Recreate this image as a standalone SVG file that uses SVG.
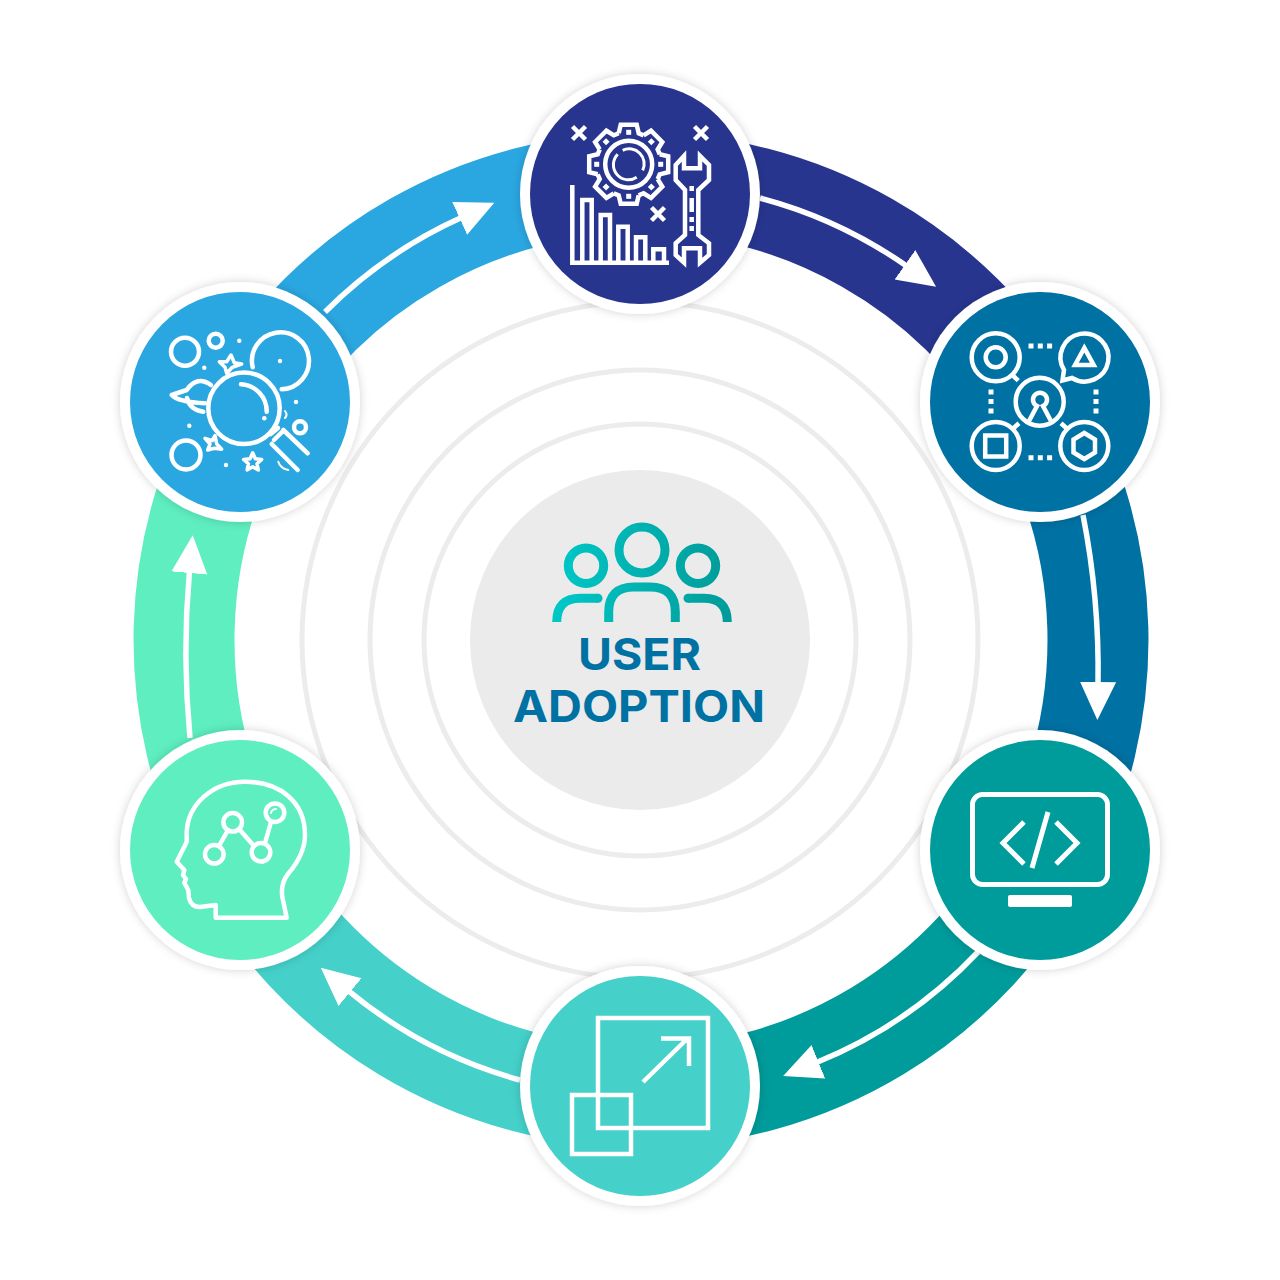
<svg xmlns="http://www.w3.org/2000/svg" width="1280" height="1280" viewBox="0 0 1280 1280">
<style>
.seg{fill:none;stroke-width:101}
.flow{fill:none;stroke:#fff;stroke-width:5.5;marker-end:url(#head)}
.halo{fill:#fff;filter:url(#sh)}
.ic{fill:none;stroke:#fff;stroke-width:4.5;stroke-linejoin:miter}
.rd{fill:none;stroke:#fff;stroke-width:4.5;stroke-linecap:round;stroke-linejoin:round}
.dot{fill:#fff}
.guide{fill:none;stroke:#ececec;stroke-width:5}
.ppl{fill:none;stroke:url(#pg);stroke-width:9}
.lbl{font-family:Inter,"Liberation Sans",sans-serif;font-weight:700;fill:#0071a3;text-anchor:middle;font-size:44px}
</style>
<defs>
<filter id="sh" x="-20%" y="-20%" width="140%" height="140%"><feDropShadow dx="0" dy="0" stdDeviation="5" flood-color="#000" flood-opacity=".18"/></filter>
<marker id="head" markerUnits="userSpaceOnUse" markerWidth="40" markerHeight="38" refX="2" refY="18" orient="auto"><polygon points="0,0 38,18 0,36" fill="#fff"/></marker>
<linearGradient id="pg" gradientUnits="userSpaceOnUse" x1="552" y1="570" x2="732" y2="570"><stop offset="0" stop-color="#00c8c8"/><stop offset="1" stop-color="#009b98"/></linearGradient>
<polyline id="tooth" points="-10,-31 -8,-39.5 8,-39.5 10,-31 14.9,-29" class="ic"/>
<rect id="notch" x="-2.5" y="-34.5" width="5" height="5" class="dot"/>
</defs>
<rect width="1280" height="1280" fill="#fff"/>
<g id="guides">
<circle cx="640" cy="640" r="338" class="guide"/>
<circle cx="640" cy="640" r="270" class="guide"/>
<circle cx="640" cy="640" r="216" class="guide"/>
</g>
<g id="connectors">
<g transform="translate(1 0)">
<path class="seg" stroke="#27358f" d="M640 183A457 457 0 0 1 1032.8 406.4"/>
<path class="seg" stroke="#0071a3" d="M1032.8 406.4A457 457 0 0 1 1044.6 852.4"/>
<path class="seg" stroke="#009b9b" d="M1044.6 852.4A457 457 0 0 1 640 1097"/>
<path class="seg" stroke="#45d0ca" d="M640 1097A457 457 0 0 1 235.4 852.4"/>
<path class="seg" stroke="#5eeec0" d="M235.4 852.4A457 457 0 0 1 247.2 406.4"/>
<path class="seg" stroke="#2aa7e1" d="M247.2 406.4A457 457 0 0 1 640 183"/>
</g>
<path class="flow" d="M760 198A460 460 0 0 1 906.6 266"/>
<path class="flow" d="M1083 515A800 800 0 0 1 1098 684"/>
<path class="flow" d="M978 952A460 460 0 0 1 816.5 1062.5"/>
<path class="flow" d="M520 1080A460 460 0 0 1 348.5 990.8"/>
<path class="flow" d="M190 738A900 900 0 0 1 189.5 571"/>
<path class="flow" d="M325 312A460 460 0 0 1 461.5 217.6"/>
</g>
<g id="node-center">
<circle cx="640" cy="640" r="170" fill="#ebebeb"/>
<circle cx="642" cy="550" r="23" class="ppl"/>
<circle cx="586" cy="565.7" r="17.7" class="ppl"/>
<circle cx="698" cy="565.7" r="17.7" class="ppl"/>
<path class="ppl" d="M608.7 622V612Q608.7 587 634 587H650Q675.3 587 675.3 612V622"/>
<path class="ppl" d="M556.7 622Q556.7 598.3 580 598.3H598"/>
<path class="ppl" d="M727.3 622Q727.3 598.3 704 598.3H688"/>
<circle cx="598" cy="598.3" r="4.5" fill="#00bcbc"/>
<circle cx="688" cy="598.3" r="4.5" fill="#00a8a5"/>
<text class="lbl" x="639.5" y="670" textLength="123" lengthAdjust="spacingAndGlyphs">USER</text>
<text class="lbl" x="639" y="722" textLength="252" lengthAdjust="spacingAndGlyphs">ADOPTION</text>
</g>
<g id="node-top">
<circle cx="640" cy="194" r="120" class="halo"/>
<circle cx="640" cy="194" r="110" fill="#27358f"/>
<path class="ic" d="M572.5 126.5l13 13m0-13l-13 13M694.5 126.5l13 13m0-13l-13 13M651.5 207.5l13 13m0-13l-13 13"/>
<g transform="translate(628.7 164.3)">
<use href="#tooth"/>
<use href="#tooth" transform="rotate(45)"/><use href="#tooth" transform="rotate(90)"/><use href="#tooth" transform="rotate(135)"/>
<use href="#tooth" transform="rotate(180)"/><use href="#tooth" transform="rotate(225)"/><use href="#tooth" transform="rotate(270)"/><use href="#tooth" transform="rotate(315)"/>
<use href="#notch"/><use href="#notch" transform="rotate(45)"/><use href="#notch" transform="rotate(90)"/><use href="#notch" transform="rotate(135)"/>
<use href="#notch" transform="rotate(180)"/><use href="#notch" transform="rotate(225)"/><use href="#notch" transform="rotate(270)"/><use href="#notch" transform="rotate(315)"/>
<circle r="23.5" class="ic"/>
<path class="ic" style="stroke-width:3" d="M-11-10A15 15 0 0 0 8 13M-6-14A15 15 0 0 1 14 6"/>
</g>
<path class="ic" d="M572.3 185V262.7H669M582.3 262.7V200H591.7V262.7M600.7 262.7V215H610V262.7M618.3 262.7V226.7H627.7V262.7M636 262.7V237.3H645.3V262.7M653.3 262.7V249.3H664V262.7"/>
<path class="ic" d="M675.7 165L684 156V168.3H700V156L709 165V180L698.3 190V235L709 243.3V255L700 262.7V248.3H684V262.7L675.7 255V243.3L685 235V190L675.7 180Z"/>
<path class="ic" d="M691.7 186V191M691.7 198V212M691.7 217V222M691.7 226V231"/>
</g>
<g id="node-topright">
<circle cx="1040" cy="402" r="120" class="halo"/>
<circle cx="1040" cy="402" r="110" fill="#0071a3"/>
<circle cx="995.7" cy="357.3" r="24" class="ic"/>
<circle cx="995.7" cy="357.3" r="10" class="ic"/>
<path class="ic" d="M1062.5 380.5L1064 370A24 24 0 1 1 1072 378Z"/>
<path class="ic" d="M1084.3 348L1075 365H1093.7Z"/>
<circle cx="995.7" cy="446" r="24" class="ic"/>
<rect x="985.2" y="435.5" width="21" height="21" class="ic"/>
<circle cx="1084.3" cy="446" r="24" class="ic"/>
<path class="ic" d="M1084.3 433L1095 439.5V452.5L1084.3 459L1073.5 452.5V439.5Z"/>
<circle cx="1039.7" cy="401.7" r="24" class="ic"/>
<path class="ic" d="M1029 421L1037 406A7 7 0 1 1 1043 406L1051 421"/>
<path class="ic" d="M1012.3 375L1018.3 380.7M1012.3 429.3L1019 423.3M1061 423.3L1067.7 429.3"/>
<path class="ic" style="stroke-width:5" d="M1028.5 346h5m4.3 0h5m4.3 0h5M1028.5 457.7h5m4.3 0h5m4.3 0h5"/>
<path class="ic" style="stroke-width:5" d="M991 389.5v5m0 4.5v5m0 4.5v5M1096 389.5v5m0 4.5v5m0 4.5v5"/>
</g>
<g id="node-bottomright">
<circle cx="1040" cy="850" r="120" class="halo"/>
<circle cx="1040" cy="850" r="110" fill="#009b9b"/>
<rect x="972.5" y="794.5" width="135" height="90" rx="10" class="ic" style="stroke-width:5"/>
<rect x="1008" y="895" width="64" height="12" rx="2" class="dot"/>
<path class="ic" style="stroke-width:5" d="M1024 822L1003 843L1024 864M1056 822L1077 843L1056 864M1048 812L1032 868"/>
</g>
<g id="node-bottom">
<circle cx="640" cy="1086" r="120" class="halo"/>
<circle cx="640" cy="1086" r="110" fill="#45d0ca"/>
<rect x="598" y="1018" width="110" height="110" class="ic"/>
<rect x="572" y="1095" width="59" height="59" class="ic"/>
<path class="ic" d="M643 1082L688 1038M661 1038.5H689V1066"/>
</g>
<g id="node-bottomleft">
<circle cx="240" cy="850" r="120" class="halo"/>
<circle cx="240" cy="850" r="110" fill="#5eeec0"/>
<path class="rd" d="M215.7 917.7H286.7L282.5 898Q280 884 288 874Q305 854 305 835C305 802 280 781.7 245 781.7C212 781.7 188 805 186.7 831.7L186.7 842L176.7 861.7L184.3 870L183 875L186 879L184.3 883L188.3 890L189 898Q191 907 200 907L215.7 905Z"/>
<path class="rd" d="M219 846L228 830M239 829L254 846M265 843L271 822"/>
<circle cx="214.3" cy="854.3" r="9.3" class="rd"/>
<circle cx="232.7" cy="822.3" r="9.3" class="rd"/>
<circle cx="261" cy="852.3" r="9.3" class="rd"/>
<circle cx="275" cy="812.7" r="9.3" class="rd"/>
<path class="rd" style="stroke-width:2" d="M271 813Q272 809 276 809"/>
</g>
<g id="node-topleft">
<circle cx="240" cy="402" r="120" class="halo"/>
<circle cx="240" cy="402" r="110" fill="#2aa7e1"/>
<circle cx="244" cy="408.3" r="35.7" class="rd"/>
<path class="rd" d="M241 384.3A27 27 0 0 1 266.7 411.7"/>
<circle cx="264.3" cy="418.3" r="2.3" class="dot"/>
<path class="rd" d="M283.3 430L307.7 453.3M271.7 444L297.7 470M270.7 434L278 428M274 440L283 431"/>
<circle cx="185" cy="351.7" r="14" class="rd"/>
<circle cx="215.7" cy="340.7" r="7" class="rd"/>
<path class="rd" d="M252.7 367.3A28.5 28.5 0 1 1 281.7 389.3"/>
<circle cx="280" cy="361" r="2.2" class="dot"/>
<circle cx="239.3" cy="340.7" r="2.2" class="dot"/>
<circle cx="204.3" cy="367.7" r="2.2" class="dot"/>
<circle cx="189.3" cy="425.7" r="2.2" class="dot"/>
<circle cx="296" cy="402" r="2.2" class="dot"/>
<circle cx="226" cy="465" r="2.2" class="dot"/>
<circle cx="300" cy="427.3" r="6" class="rd"/>
<circle cx="186" cy="455" r="14.5" class="rd"/>
<path class="rd" style="stroke-width:3.5" d="M252.7 452.8L255.3 458.7L261.7 459.4L257 463.7L258.3 470L252.7 466.8L247.1 470L248.4 463.7L243.7 459.4L250.1 458.7Z"/>
<path class="rd" style="stroke-width:3.5" d="M219.3 361.7H226.7L231 355L234.3 362.7L241.7 364L232.3 367.3L226.7 373.3L225 367.3Z"/>
<path class="rd" style="stroke-width:3.5" d="M205 438.3L212.3 440.7L215 435.7L216.7 444L221.7 449.3L214.3 448.3L207.7 450L210 444Z"/>
<path class="rd" d="M211 385Q197 375 186.7 390L171.7 395Q178 402 205 403.3M187 398Q190 410 203.3 411.7"/>
<path class="rd" style="stroke-width:2" d="M285 411Q288 415 285 418M278.3 461.7Q280 468 288.3 470"/>
</g>
</svg>
